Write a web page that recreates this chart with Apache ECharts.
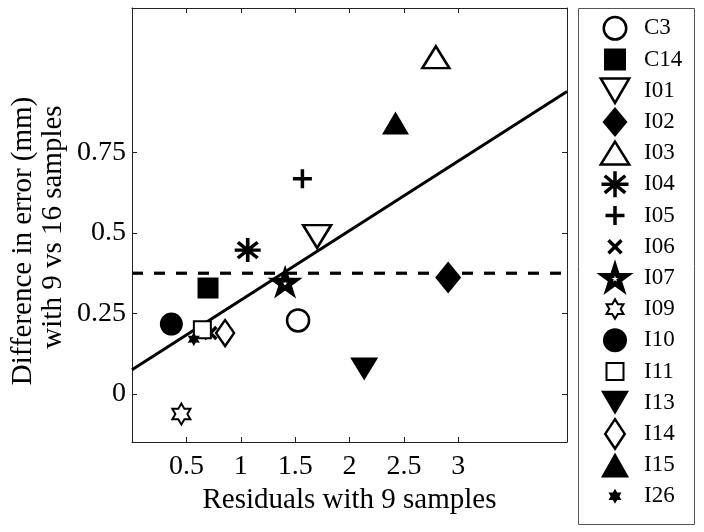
<!DOCTYPE html>
<html><head><meta charset="utf-8">
<script src="https://cdn.jsdelivr.net/npm/echarts@6/dist/echarts.min.js"></script>
<style>html,body{margin:0;padding:0;background:#fff}#c{width:704px;height:532px}</style>
</head><body><div id="c"></div>
<script>
// ---- data ----
const names   = ['C3','C14','I01','I02','I03','I04','I05','I06','I07','I09','I10','I11','I13','I14','I15','I26'];
const xValues = [1.527,0.699,1.702,2.907,2.794,1.064,1.567,0.721,1.408,0.454,0.362,0.647,2.135,0.856,2.423,0.568];
const yValues = [0.228,0.329,0.489,0.362,1.047,0.447,0.669,0.189,0.346,-0.063,0.217,0.199,0.077,0.189,0.842,0.170];
const fitX  = [0, 4];
const fitY  = [0.075, 0.94];
const meanX = [0, 4];
const meanY = [0.375, 0.375];
const xTicks = [0.5, 1, 1.5, 2, 2.5, 3];
const yTicks = [0, 0.25, 0.5, 0.75];
const xName = 'Residuals with 9 samples';
const yName1 = 'Difference in error (mm)';
const yName2 = 'with 9 vs 16 samples';

// ---- marker shapes (style only) ----
function starPts(n, rIn) {
  const p = [];
  for (let k = 0; k < 2 * n; k++) {
    const a = (-90 + k * 180 / n) * Math.PI / 180;
    const r = k % 2 === 0 ? 1 : rIn;
    p.push([r * Math.cos(a), r * Math.sin(a)]);
  }
  let x0 = Infinity, x1 = -Infinity, y0 = Infinity, y1 = -Infinity;
  p.forEach(q => { x0 = Math.min(x0, q[0]); x1 = Math.max(x1, q[0]); y0 = Math.min(y0, q[1]); y1 = Math.max(y1, q[1]); });
  return p.map(q => [(q[0] - x0) / (x1 - x0) - 0.5, (q[1] - y0) / (y1 - y0) - 0.5]);
}
const SHAPES = {
  triDown: { poly: [[-.5,-.5],[.5,-.5],[0,.5]] },
  triUp:   { poly: [[0,-.5],[.5,.5],[-.5,.5]] },
  diamond: { poly: [[0,-.5],[.5,0],[0,.5],[-.5,0]] },
  square:  { poly: [[-.5,-.5],[.5,-.5],[.5,.5],[-.5,.5]] },
  penta:   { poly: starPts(5, 0.382) },
  hexa:    { poly: starPts(6, 0.577) },
  aster:   { segs: [[[0,-.5],[0,.5]],[[-.5,0],[.5,0]],[[-.38,-.33],[.38,.33]],[[-.38,.33],[.38,-.33]]] },
  plus:    { segs: [[[0,-.5],[0,.5]],[[-.5,0],[.5,0]]] },
  cross:   { segs: [[[-.5,-.5],[.5,.5]],[[-.5,.5],[.5,-.5]]] },
  circle:  { circle: true }
};
function f(v) { return v.toFixed(2); }
function shapeD(kind, w, h, cx, cy) {
  const s = SHAPES[kind];
  if (s.circle) {
    const r = w / 2;
    return 'M' + f(cx - r) + ',' + f(cy) + ' A' + f(r) + ',' + f(r) + ' 0 1,0 ' + f(cx + r) + ',' + f(cy) +
           ' A' + f(r) + ',' + f(r) + ' 0 1,0 ' + f(cx - r) + ',' + f(cy) + ' Z';
  }
  if (s.poly) {
    return s.poly.map((q, i) => (i ? 'L' : 'M') + f(cx + q[0] * w) + ',' + f(cy + q[1] * h)).join(' ') + ' Z';
  }
  return s.segs.map(g => 'M' + f(cx + g[0][0] * w) + ',' + f(cy + g[0][1] * h) + ' L' + f(cx + g[1][0] * w) + ',' + f(cy + g[1][1] * h)).join(' ');
}
const IW = 48, IH = 32;
function iconPath(kind, w, h) { return 'path://M0,0 M' + IW + ',' + IH + ' ' + shapeD(kind, w, h, IW / 2, IH / 2); }
function markPath(kind) { return 'path://' + shapeD(kind, 100, 100, 50, 50); }

const W = '#ffffff', K = '#000000';
// kind, plot size [w,h], legend size [w,h], fill, border width
const spec = {
  C3:  ['circle',  [22,22], [22.5,22.5], W, 2.5],
  C14: ['square',  [21,21], [22,22],   K, 0],
  I01: ['triDown', [28,23], [28.5,24.5], W, 2.5],
  I02: ['diamond', [26,32], [25,30],   K, 0],
  I03: ['triUp',   [27,22], [28.5,23], W, 2.5],
  I04: ['aster',   [26,24], [27,26],   K, 3.5],
  I05: ['plus',    [19,19], [19,19],   K, 3.5],
  I06: ['cross',   [12,12], [13,13],   K, 3.5],
  I07: ['penta',   [20,19], [22,21],   W, 5],
  I09: ['hexa',    [18,21], [16.9,19.5], W, 2],
  I10: ['circle',  [23,23], [24,24],   K, 0],
  I11: ['square',  [17,17], [17,17],   W, 2],
  I13: ['triDown', [28,23], [28,24],   K, 0],
  I14: ['diamond', [18,26], [19.5,29.5], W, 2.5],
  I15: ['triUp',   [27,23], [28,25],   K, 0],
  I26: ['hexa',    [12,14], [13,15],   K, 0]
};

const FONT = 'Liberation Serif';
const AX = '#222';

const scatterSeries = names.map((n, i) => ({
  type: 'scatter',
  name: n,
  data: [[xValues[i], yValues[i]]],
  symbol: spec[n][0] === 'circle' ? 'circle' : markPath(spec[n][0]),
  symbolSize: spec[n][1],
  symbolKeepAspect: false,
  itemStyle: { color: spec[n][3], borderColor: K, borderWidth: spec[n][4], borderJoin: 'miter', opacity: 1 },
  emphasis: { disabled: true },
  z: 3
}));

const legends = names.map((n, i) => {
  const sw = spec[n][4];
  const cy = 28.3 + 31.2 * i;
  return {
    data: [{ name: n, icon: iconPath(spec[n][0], spec[n][2][0], spec[n][2][1]) }],
    orient: 'vertical', left: 591 - sw / 2, top: cy - IH / 2 - sw / 2,
    itemWidth: IW, itemHeight: IH, padding: 0, itemGap: 0,
    selectedMode: false, symbolKeepAspect: true,
    itemStyle: { color: spec[n][3], borderColor: K, borderWidth: sw, borderJoin: 'miter' },
    textStyle: { fontFamily: FONT, fontSize: 23, color: K }
  };
});

const chart = echarts.init(document.getElementById('c'), null, { renderer: 'canvas' });
chart.setOption({
  animation: false,
  backgroundColor: '#fff',
  grid: { left: 132, top: 8, width: 435, height: 434, containLabel: false },
  xAxis: [{
    type: 'value', min: 0, max: 4, position: 'bottom',
    axisLine: { show: true, onZero: false, lineStyle: { color: AX, width: 1 } },
    axisTick: { show: true, inside: true, length: 5, customValues: xTicks, lineStyle: { color: AX } },
    axisLabel: { customValues: xTicks, fontFamily: FONT, fontSize: 28, color: K, margin: 11 },
    splitLine: { show: false },
    name: xName, nameLocation: 'middle', nameGap: 32,
    nameTextStyle: { fontFamily: FONT, fontSize: 29, color: K }
  }, {
    type: 'value', min: 0, max: 4, position: 'top',
    axisLine: { show: true, onZero: false, lineStyle: { color: AX, width: 1 } },
    axisTick: { show: true, inside: true, length: 5, customValues: xTicks, lineStyle: { color: AX } },
    axisLabel: { show: false }, splitLine: { show: false }
  }],
  yAxis: [{
    type: 'value', min: -0.15, max: 1.2, position: 'left',
    axisLine: { show: true, onZero: false, lineStyle: { color: AX, width: 1 } },
    axisTick: { show: true, inside: true, length: 5, customValues: yTicks, lineStyle: { color: AX } },
    axisLabel: { customValues: yTicks, fontFamily: FONT, fontSize: 28, color: K, margin: 6 },
    splitLine: { show: false }
  }, {
    type: 'value', min: -0.15, max: 1.2, position: 'right',
    axisLine: { show: true, onZero: false, lineStyle: { color: AX, width: 1 } },
    axisTick: { show: true, inside: true, length: 5, customValues: yTicks, lineStyle: { color: AX } },
    axisLabel: { show: false }, splitLine: { show: false }
  }],
  legend: legends,
  graphic: [
    { type: 'rect', shape: { x: 578.5, y: 8.5, width: 116, height: 516 }, style: { fill: null, stroke: '#555', lineWidth: 1 }, silent: true },
    { type: 'text', x: 23, y: 241, rotation: Math.PI / 2, style: { text: yName1, font: '29px "' + FONT + '"', fill: K, textAlign: 'center', textVerticalAlign: 'middle' }, silent: true },
    { type: 'text', x: 53, y: 227, rotation: Math.PI / 2, style: { text: yName2, font: '29px "' + FONT + '"', fill: K, textAlign: 'center', textVerticalAlign: 'middle' }, silent: true }
  ],
  series: [{
    type: 'line', name: 'fit', data: fitX.map((x, i) => [x, fitY[i]]),
    symbol: 'none', lineStyle: { color: K, width: 3 }, z: 2, silent: true
  }, {
    type: 'line', name: 'mean', data: meanX.map((x, i) => [x, meanY[i]]),
    symbol: 'none', lineStyle: { color: K, width: 3.2, type: [11, 11] }, z: 2, silent: true
  }].concat(scatterSeries)
});
</script>
</body></html>
